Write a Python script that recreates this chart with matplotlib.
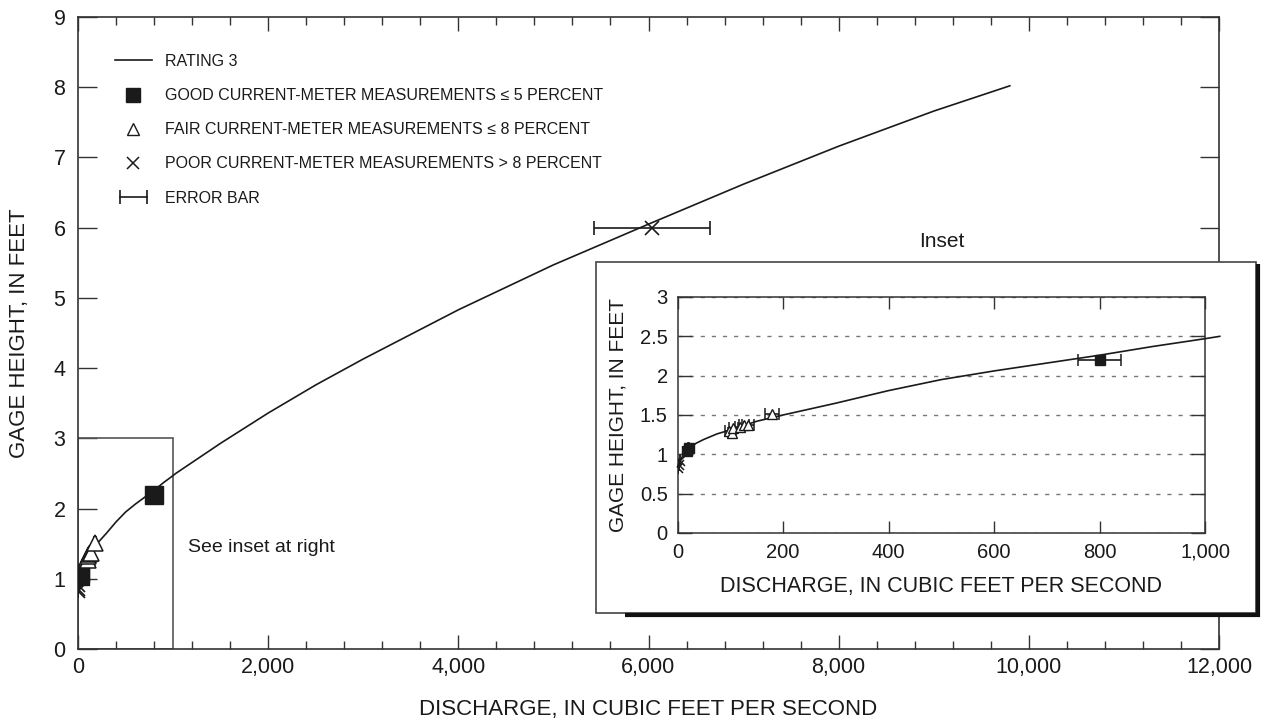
import matplotlib
matplotlib.use("Agg")
import matplotlib.pyplot as plt
import numpy as np
from matplotlib.lines import Line2D
from matplotlib.patches import Rectangle
from matplotlib.legend_handler import HandlerLine2D
from matplotlib.ticker import FuncFormatter, MultipleLocator

plt.rcParams['font.family'] = ['Liberation Sans', 'DejaVu Sans']

# rating curve (discharge cfs, gage height ft)
rating_q = [0, 5, 10, 20, 35, 50, 75, 100, 150, 200, 300, 400, 500, 600, 700, 800, 900,
            1000, 1028, 1500, 2000, 2500, 3000, 4000, 5000, 6000, 7000, 8000, 9000, 9800]
rating_h = [0.84, 0.92, 0.98, 1.06, 1.14, 1.19, 1.26, 1.31, 1.42, 1.50, 1.65, 1.81, 1.95, 2.06, 2.16, 2.26, 2.37,
            2.47, 2.50, 2.93, 3.36, 3.76, 4.13, 4.83, 5.47, 6.05, 6.62, 7.16, 7.66, 8.02]

# measurements
good_q = [18, 21, 800]
good_h = [1.04, 1.08, 2.20]
good_err = [0.9, 1.0, 40]

fair_q = [98, 103, 106, 118, 126, 134, 179]
fair_h = [1.30, 1.27, 1.33, 1.35, 1.37, 1.37, 1.51]
fair_err = [8, 8, 8, 9, 10, 11, 14]

poor_q = [1, 3, 5, 6040]
poor_h = [0.82, 0.86, 0.91, 6.0]
poor_err = [0.2, 0.4, 0.6, 610]

legend_labels = ["RATING 3",
                 "GOOD CURRENT-METER MEASUREMENTS \u2264 5 PERCENT",
                 "FAIR CURRENT-METER MEASUREMENTS \u2264 8 PERCENT",
                 "POOR CURRENT-METER MEASUREMENTS > 8 PERCENT",
                 "ERROR BAR"]

W, H = 1267, 723
fig = plt.figure(figsize=(W / 100, H / 100), dpi=100)
ink = '#1a1a1a'
spine = '#333333'

def fx(px):
    return px / W

def fy(py):
    return 1 - py / H

comma = FuncFormatter(lambda v, p: f'{v:,.0f}')

# ---- main axes
ax = fig.add_axes([fx(78), fy(649), fx(1219) - fx(78), fy(17) - fy(649)])
ax.set_xlim(0, 12000)
ax.set_ylim(0, 9)
ax.plot(rating_q, rating_h, color=ink, lw=1.2, zorder=3)
ebkw = dict(fmt='none', ecolor=ink, elinewidth=1.2, capsize=5, capthick=1.2, zorder=4)
ax.errorbar(good_q, good_h, xerr=good_err, **ebkw)
ax.errorbar(fair_q, fair_h, xerr=fair_err, **ebkw)
ax.errorbar(poor_q, poor_h, xerr=poor_err, **ebkw)
ax.plot(good_q, good_h, 's', ms=13, color=ink, zorder=5)
ax.plot(fair_q, fair_h, '^', ms=11, mfc='white', mec=ink, mew=1.1, zorder=5)
ax.plot(poor_q, poor_h, 'x', ms=10, mec=ink, mew=1.2, zorder=5)

ax.add_patch(Rectangle((0, 0), 1000, 3, fill=False, ec='#555555', lw=1.2, zorder=2))
ax.text(1160, 1.45, "See inset at right", fontsize=14, va='center', ha='left', color=ink)

ax.xaxis.set_major_locator(MultipleLocator(2000))
ax.xaxis.set_minor_locator(MultipleLocator(400))
ax.yaxis.set_major_locator(MultipleLocator(1))
ax.xaxis.set_major_formatter(comma)
ax.tick_params(axis='x', which='major', direction='in', length=10, width=1, top=True,
               labelsize=15.5, pad=6, colors=spine, labelcolor=ink)
ax.tick_params(axis='x', which='minor', direction='in', length=5.5, width=1, top=True, colors=spine)
ax.tick_params(axis='y', which='major', direction='in', length=13.5, width=1, right=True,
               labelsize=15.5, pad=9, colors=spine, labelcolor=ink)
for s in ax.spines.values():
    s.set_color(spine)
    s.set_linewidth(1.2)
ax.set_xlabel("DISCHARGE, IN CUBIC FEET PER SECOND", fontsize=16, labelpad=15, color=ink)
ax.set_ylabel("GAGE HEIGHT, IN FEET", fontsize=16, labelpad=17, color=ink)

# legend
h_line = Line2D([], [], color=ink, lw=1.2)
h_good = Line2D([], [], ls='none', marker='s', ms=10, color=ink)
h_fair = Line2D([], [], ls='none', marker='^', ms=8.5, mfc='white', mec=ink, mew=1)
h_poor = Line2D([], [], ls='none', marker='x', ms=8.5, mec=ink, mew=1.1)
h_err = Line2D([0, 1], [0, 0], color=ink, lw=1.2, marker='|', ms=10, mew=1.2)
leg = ax.legend([h_line, h_good, h_fair, h_poor, h_err], legend_labels,
                loc='upper left', bbox_to_anchor=((115 - 78) / 1141, (649 - 54) / 632),
                frameon=False, fontsize=11.5, handlelength=2.3, handletextpad=0.85,
                labelspacing=1.2, borderpad=0, borderaxespad=0,
                handler_map={h_err: HandlerLine2D(numpoints=2)})
for t in leg.get_texts():
    t.set_color(ink)

# ---- inset frame with shadow
fig.add_artist(Rectangle((fx(596), fy(613)), fx(1256) - fx(596), fy(262) - fy(613),
                         transform=fig.transFigure, fc='white', ec='#444444', lw=1.2, zorder=2))
fig.add_artist(Line2D([fx(625), fx(1260)], [fy(615), fy(615)], transform=fig.transFigure,
                      color='#111111', lw=3, solid_capstyle='butt', zorder=2.1))
fig.add_artist(Line2D([fx(1258), fx(1258)], [fy(264), fy(617)], transform=fig.transFigure,
                      color='#111111', lw=3, solid_capstyle='butt', zorder=2.1))
fig.text(fx(942), fy(242), "Inset", fontsize=15, ha='center', va='center', color=ink)

# ---- inset axes
ia = fig.add_axes([fx(677.5), fy(533), fx(1205) - fx(677.5), fy(297) - fy(533)], zorder=3)
ia.set_xlim(0, 1000)
ia.set_ylim(0, 3)
iq = [q for q in rating_q if q <= 1028]
ih = rating_h[:len(iq)]
ia.plot(iq, ih, color=ink, lw=1.2, zorder=3, clip_on=False)
ebkw2 = dict(fmt='none', ecolor=ink, elinewidth=1.2, capsize=4.5, capthick=1.1, zorder=4)
ia.errorbar(good_q, good_h, xerr=good_err, **ebkw2)
ia.errorbar(fair_q, fair_h, xerr=fair_err, **ebkw2)
ia.errorbar(poor_q[:3], poor_h[:3], xerr=poor_err[:3], **ebkw2)
ia.plot(good_q, good_h, 's', ms=7, color=ink, zorder=5)
ia.plot(fair_q, fair_h, '^', ms=6.5, mfc='white', mec=ink, mew=1, zorder=5)
ia.plot(poor_q[:3], poor_h[:3], 'x', ms=6.5, mec=ink, mew=1.1, zorder=5)

ia.xaxis.set_major_locator(MultipleLocator(200))
ia.yaxis.set_major_locator(MultipleLocator(0.5))
ia.xaxis.set_major_formatter(comma)
ia.yaxis.set_major_formatter(FuncFormatter(lambda v, p: f'{v:g}'))
ia.grid(axis='y', color='#777777', lw=1, ls=(0, (3, 5)))
ia.tick_params(axis='x', direction='in', length=8.5, width=1, top=True, labelsize=14.5,
               pad=7, colors=spine, labelcolor=ink)
ia.tick_params(axis='y', direction='in', length=10, width=1, right=True, labelsize=14.5,
               pad=7, colors=spine, labelcolor=ink)
for s in ia.spines.values():
    s.set_color(spine)
    s.set_linewidth(1.1)
ia.set_xlabel("DISCHARGE, IN CUBIC FEET PER SECOND", fontsize=15.5, labelpad=10, color=ink)
ia.set_ylabel("GAGE HEIGHT, IN FEET", fontsize=15, labelpad=9, color=ink)

fig.savefig("out.png", dpi=100)
